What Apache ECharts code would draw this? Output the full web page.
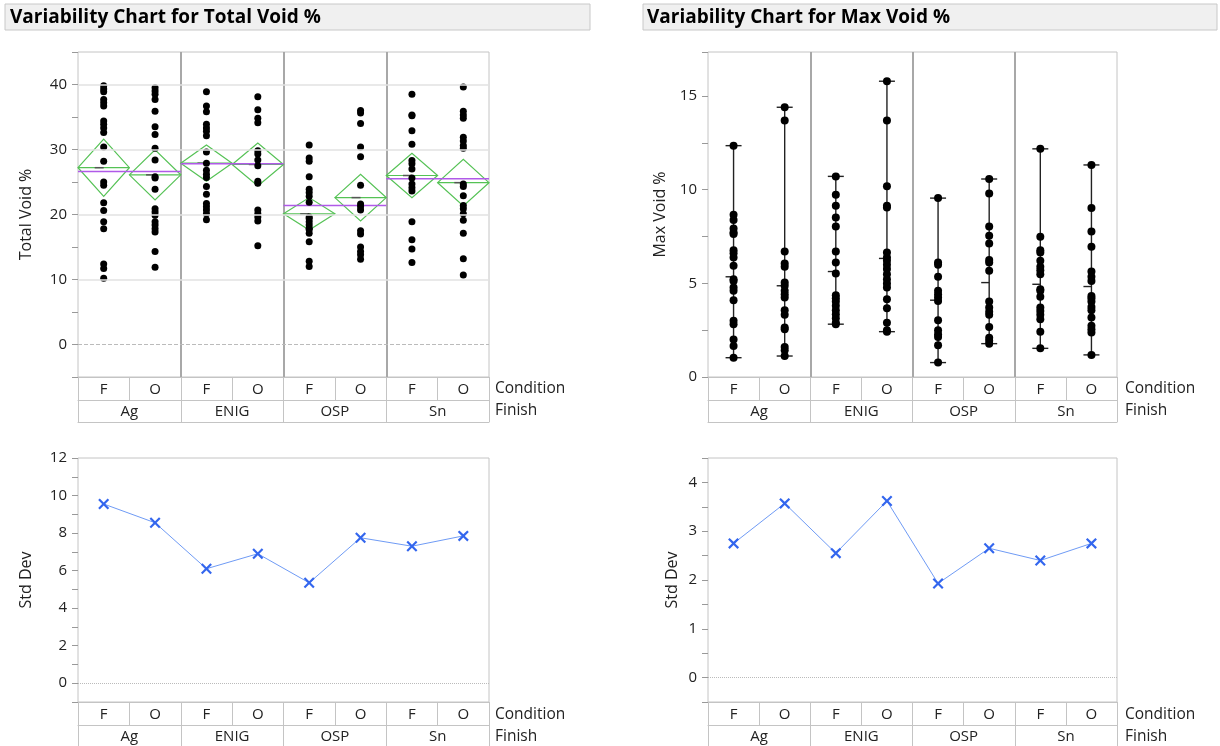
<!doctype html>
<html>
<head>
<meta charset="utf-8">
<title>Variability Chart</title>
<script src="https://cdn.jsdelivr.net/npm/echarts@6/dist/echarts.min.js"></script>
<style>
    html,body{
        margin: 0;
        width: 100%;
        height: 100%;
        background: #fff;
    }
    #main{
        width: 1220px;
        height: 746px;
    }
</style>
</head>
<body>
<div id="main"></div>
<script>
    // categories
    var conditions = ['F','O','F','O','F','O','F','O'];
    var finishes = ['Ag','ENIG','OSP','Sn'];

    // Total Void % points, one list per Finish/Condition cell
    var totalAgF   = [39.8,39.3,38.9,37.7,37.2,36.7,34.4,33.9,33.3,32.6,30.4,28.2,25.0,24.5,21.8,20.6,18.9,17.8,12.4,11.7,10.2];
    var totalAgO   = [39.5,39.0,38.5,37.7,35.9,33.5,32.3,30.2,28.4,25.8,25.6,23.9,20.9,20.4,19.9,18.9,18.4,17.8,17.3,14.3,11.9];
    var totalEnigF = [38.9,36.7,35.8,33.9,33.3,32.8,32.1,29.6,27.9,26.8,26.2,25.7,24.3,23.1,21.7,21.2,20.7,20.1,19.2];
    var totalEnigO = [38.1,36.1,34.8,34.1,29.8,29.3,28.4,27.5,25.1,24.8,20.7,20.1,19.6,19.0,15.2];
    var totalOspF  = [30.7,28.7,28.2,25.8,23.9,23.4,22.8,21.9,19.6,19.4,18.9,18.4,17.9,17.7,17.1,15.8,12.8,12.0];
    var totalOspO  = [36.0,35.6,34.0,30.4,28.9,24.5,21.6,21.2,20.7,17.5,17.0,15.0,14.3,13.8,13.1];
    var totalSnF   = [38.5,35.3,35.2,32.9,30.8,28.3,27.8,27.0,25.6,24.7,24.1,23.6,18.9,16.1,14.7,12.6];
    var totalSnO   = [39.6,35.9,35.3,34.8,31.9,31.3,30.6,30.2,24.7,24.3,22.9,21.4,20.9,20.1,19.1,17.1,13.2,10.7];

    // mean diamonds (cell mean and half height) and group means by Finish
    var totalCellMean = [27.2,26.1,27.9,27.7,20.1,22.6,26.0,24.9];
    var totalCellHalf = [4.4,3.85,2.8,3.3,2.5,3.6,3.4,3.6];
    var totalFinishMean = [26.6,27.8,21.4,25.5];

    // Max Void % points
    var maxAgF   = [12.35,8.66,8.38,7.93,7.72,7.63,6.77,6.6,6.38,5.94,5.22,5.13,4.78,4.6,4.1,3.0,2.82,2.0,1.66,1.03];
    var maxAgO   = [14.4,13.69,6.7,6.06,5.88,5.04,4.87,4.6,4.42,4.24,3.57,3.32,2.64,2.55,1.6,1.43,1.12];
    var maxEnigF = [10.71,9.73,9.14,8.52,8.04,6.7,6.11,5.52,4.37,4.2,4.03,3.8,3.57,3.35,3.14,2.9,2.82];
    var maxEnigO = [15.79,13.69,10.18,9.14,9.05,6.65,6.38,6.2,5.99,5.76,5.49,5.22,4.99,4.78,4.15,3.67,2.9,2.5,2.42];
    var maxOspF  = [9.55,6.11,5.99,5.35,4.6,4.42,4.24,4.06,3.03,2.5,2.28,2.14,1.7,0.77];
    var maxOspO  = [10.57,9.8,8.04,7.54,7.13,6.24,6.11,5.67,4.03,3.71,3.49,3.32,2.67,2.1,1.93,1.78];
    var maxSnF   = [12.18,7.49,6.77,6.65,6.2,5.88,5.7,5.49,4.69,4.6,4.28,3.71,3.53,3.32,3.08,2.42,1.53];
    var maxSnO   = [11.32,9.02,7.77,6.95,5.63,5.35,5.13,4.33,4.2,4.03,3.74,3.57,3.17,2.73,2.55,2.37,1.18];
    var maxCellMean = [5.35,4.87,5.63,6.33,4.1,5.04,4.95,4.83];

    // Std Dev per cell
    var sdTotal = [9.55,8.55,6.1,6.9,5.35,7.75,7.3,7.85];
    var sdMax = [2.75,3.57,2.55,3.62,1.93,2.65,2.4,2.75];

    // tick labels
    var totalTicks = [0,10,20,30,40];
    var maxTicks = [0,5,10,15];
    var sdTotalTicks = [0,2,4,6,8,10,12];
    var sdMaxTicks = [0,1,2,3,4];

    var totalCells = [totalAgF,totalAgO,totalEnigF,totalEnigO,totalOspF,totalOspO,totalSnF,totalSnO];
    var maxCells = [maxAgF,maxAgO,maxEnigF,maxEnigO,maxOspF,maxOspO,maxSnF,maxSnO];

    var FONT = '"Open Sans", "Noto Sans", sans-serif';
    var TXT = '#222';
    var BORDER = '#c4c4c4';

    function cellPoints(cells){
        var out = [];
        cells.forEach(function(list, i){
            list.forEach(function(v){ out.push([i, v]); });
        });
        return out;
    }

    function tickFormatter(ticks){
        return function(v){
            var r = Math.round(v * 1000) / 1000;
            return ticks.indexOf(r) >= 0 ? String(r) : '';
        };
    }

    function headerAxes(g, dividers){
        return [{
            type: 'category', gridIndex: g, data: conditions, position: 'bottom', boundaryGap: true,
            axisLine: {show: true, onZero: false, lineStyle: {color: BORDER}},
            axisTick: {show: true, inside: false, interval: 0, length: 23, lineStyle: {color: BORDER}},
            axisLabel: {interval: 0, margin: 5, color: TXT, fontSize: 15, fontFamily: FONT},
            splitLine: {show: false}
        }, {
            type: 'category', gridIndex: g, data: finishes, position: 'bottom', offset: 23, boundaryGap: true,
            axisLine: {show: true, onZero: false, lineStyle: {color: BORDER}},
            axisTick: {show: true, inside: false, interval: 0, length: 22, lineStyle: {color: BORDER}},
            axisLabel: {interval: 0, margin: 4, color: TXT, fontSize: 15, fontFamily: FONT},
            splitLine: {show: dividers, interval: 0, showMinLine: false, showMaxLine: false,
                lineStyle: {color: '#a8a8a8', width: 2}}
        }, {
            type: 'category', gridIndex: g, data: finishes, position: 'bottom', offset: 45,
            axisLine: {show: true, onZero: false, lineStyle: {color: BORDER}},
            axisTick: {show: false}, axisLabel: {show: false}, splitLine: {show: false}
        }];
    }

    function valueAxis(g, min, max, step, ticks, name, gap){
        return {
            type: 'value', gridIndex: g, min: min, max: max, interval: step,
            name: name, nameLocation: 'middle', nameGap: gap,
            nameTextStyle: {color: TXT, fontSize: 16, fontFamily: FONT},
            axisLine: {show: false},
            axisTick: {show: true, length: 6, lineStyle: {color: '#999'}},
            axisLabel: {margin: 11, color: TXT, fontSize: 15, fontFamily: FONT, formatter: tickFormatter(ticks)},
            splitLine: {show: false}
        };
    }

    function diamondItem(params, api){
        var x = api.value(0), m = api.value(1), h = api.value(2);
        var c = api.coord([x, m]);
        var up = api.coord([x, m + h]);
        var lo = api.coord([x, m - h]);
        var w = api.size([1, 0])[0] / 2;
        var st = {stroke: '#55c255', lineWidth: 1.2, fill: 'none'};
        return {type: 'group', children: [
            {type: 'polygon', shape: {points: [[c[0] - w, c[1]], [c[0], up[1]], [c[0] + w, c[1]], [c[0], lo[1]]]}, style: st},
            {type: 'line', shape: {x1: c[0] - w, y1: c[1], x2: c[0] + w, y2: c[1]}, style: {stroke: '#55c255', lineWidth: 1.2}},
            {type: 'line', shape: {x1: c[0] - 9, y1: c[1], x2: c[0], y2: c[1]}, style: {stroke: '#555', lineWidth: 1.5}}
        ]};
    }

    function groupMeanItem(params, api){
        var c = api.coord([api.value(0), api.value(1)]);
        var w = api.size([1, 0])[0] / 2;
        return {type: 'line', shape: {x1: c[0] - w, y1: c[1], x2: c[0] + w, y2: c[1]},
            style: {stroke: '#b05ae8', lineWidth: 1.5}};
    }

    function rangeItem(params, api){
        var x = api.value(0);
        var lo = api.coord([x, api.value(1)]);
        var hi = api.coord([x, api.value(2)]);
        var mn = api.coord([x, api.value(3)]);
        var st = {stroke: '#222', lineWidth: 1.4};
        return {type: 'group', children: [
            {type: 'line', shape: {x1: lo[0], y1: lo[1], x2: hi[0], y2: hi[1]}, style: st},
            {type: 'line', shape: {x1: lo[0] - 8, y1: lo[1], x2: lo[0] + 8, y2: lo[1]}, style: st},
            {type: 'line', shape: {x1: hi[0] - 8, y1: hi[1], x2: hi[0] + 8, y2: hi[1]}, style: st},
            {type: 'line', shape: {x1: mn[0] - 8, y1: mn[1], x2: mn[0], y2: mn[1]}, style: st}
        ]};
    }

    var xMark = 'path://M0,1.4L1.4,0L5,3.6L8.6,0L10,1.4L6.4,5L10,8.6L8.6,10L5,6.4L1.4,10L0,8.6L3.6,5Z';

    var diamondData = totalCellMean.map(function(m, i){ return [i, m, totalCellHalf[i]]; });
    var finishMeanData = totalFinishMean.map(function(m, i){ return [i, m]; });
    var rangeData = maxCells.map(function(list, i){
        return [i, Math.min.apply(null, list), Math.max.apply(null, list), maxCellMean[i]];
    });

    var gridLines = totalTicks.filter(function(t){ return t !== 0; }).map(function(t){
        return {yAxis: t, lineStyle: {color: '#e2e2e2', type: 'solid', width: 1.5}};
    });
    gridLines.push({yAxis: 0, lineStyle: {color: '#bbb', type: 'dashed', width: 1}});

    function zeroLine(kind){
        return {silent: true, symbol: 'none', label: {show: false}, animation: false,
            data: [{yAxis: 0, lineStyle: {color: '#bbb', type: kind, width: 1}}]};
    }

    function titleText(x, text){
        return {type: 'text', x: x, y: 18, style: {text: text, fill: '#000', fontSize: 19, fontWeight: 'bold', fontFamily: FONT, verticalAlign: 'middle'}};
    }
    function rowText(x, y, text){
        return {type: 'text', x: x, y: y, style: {text: text, fill: TXT, fontSize: 15.5, fontFamily: FONT, verticalAlign: 'middle'}};
    }

    var chart = echarts.init(document.getElementById('main'));
    var option = {
        animation: false,
        backgroundColor: '#fff',
        grid: [
            {left: 78, top: 52, width: 411, height: 325, show: true, borderColor: BORDER, borderWidth: 1, backgroundColor: 'transparent'},
            {left: 708, top: 52, width: 409, height: 325, show: true, borderColor: BORDER, borderWidth: 1, backgroundColor: 'transparent'},
            {left: 78, top: 458, width: 411, height: 244, show: true, borderColor: BORDER, borderWidth: 1, backgroundColor: 'transparent'},
            {left: 708, top: 458, width: 409, height: 244, show: true, borderColor: BORDER, borderWidth: 1, backgroundColor: 'transparent'}
        ],
        xAxis: [].concat(headerAxes(0, true), headerAxes(1, true), headerAxes(2, false), headerAxes(3, false)),
        yAxis: [
            valueAxis(0, -5, 45, 5, totalTicks, 'Total Void %', 44),
            valueAxis(1, 0, 17.35, 2.5, maxTicks, 'Max Void %', 40),
            valueAxis(2, -1, 12, 1, sdTotalTicks, 'Std Dev', 44),
            valueAxis(3, -0.5, 4.5, 0.5, sdMaxTicks, 'Std Dev', 28)
        ],
        graphic: [
            {type: 'rect', shape: {x: 5, y: 4, width: 585, height: 26}, style: {fill: '#f0f0f0', stroke: '#c8c8c8', lineWidth: 1}},
            titleText(10, 'Variability Chart for Total Void %'),
            {type: 'rect', shape: {x: 643, y: 4, width: 574, height: 26}, style: {fill: '#f0f0f0', stroke: '#c8c8c8', lineWidth: 1}},
            titleText(647, 'Variability Chart for Max Void %'),
            rowText(495, 389, 'Condition'),
            rowText(495, 411, 'Finish'),
            rowText(1125, 389, 'Condition'),
            rowText(1125, 411, 'Finish'),
            rowText(495, 715, 'Condition'),
            rowText(495, 737, 'Finish'),
            rowText(1125, 715, 'Condition'),
            rowText(1125, 737, 'Finish')
        ],
        series: [{
            name: 'Mean diamonds', type: 'custom', xAxisIndex: 0, yAxisIndex: 0, z: 2,
            renderItem: diamondItem, data: diamondData, silent: true
        }, {
            name: 'Finish means', type: 'custom', xAxisIndex: 1, yAxisIndex: 0, z: 2,
            renderItem: groupMeanItem, data: finishMeanData, silent: true
        }, {
            name: 'Total Void %', type: 'scatter', xAxisIndex: 0, yAxisIndex: 0, z: 4,
            symbolSize: 7, itemStyle: {color: '#000', opacity: 1},
            data: cellPoints(totalCells),
            markLine: {silent: true, symbol: 'none', label: {show: false}, data: gridLines}
        }, {
            name: 'Range', type: 'custom', xAxisIndex: 3, yAxisIndex: 1, z: 2,
            renderItem: rangeItem, data: rangeData, silent: true
        }, {
            name: 'Max Void %', type: 'scatter', xAxisIndex: 3, yAxisIndex: 1, z: 4,
            symbolSize: 8, itemStyle: {color: '#000', opacity: 1},
            data: cellPoints(maxCells)
        }, {
            name: 'Std Dev Total', type: 'line', xAxisIndex: 6, yAxisIndex: 2,
            symbol: xMark, symbolSize: 11,
            lineStyle: {color: '#6f9bf5', width: 1}, itemStyle: {color: '#3366ee'},
            data: sdTotal, markLine: zeroLine('dotted')
        }, {
            name: 'Std Dev Max', type: 'line', xAxisIndex: 9, yAxisIndex: 3,
            symbol: xMark, symbolSize: 11,
            lineStyle: {color: '#6f9bf5', width: 1}, itemStyle: {color: '#3366ee'},
            data: sdMax, markLine: zeroLine('dotted')
        }]
    };
    chart.setOption(option);
</script>
</body>
</html>
